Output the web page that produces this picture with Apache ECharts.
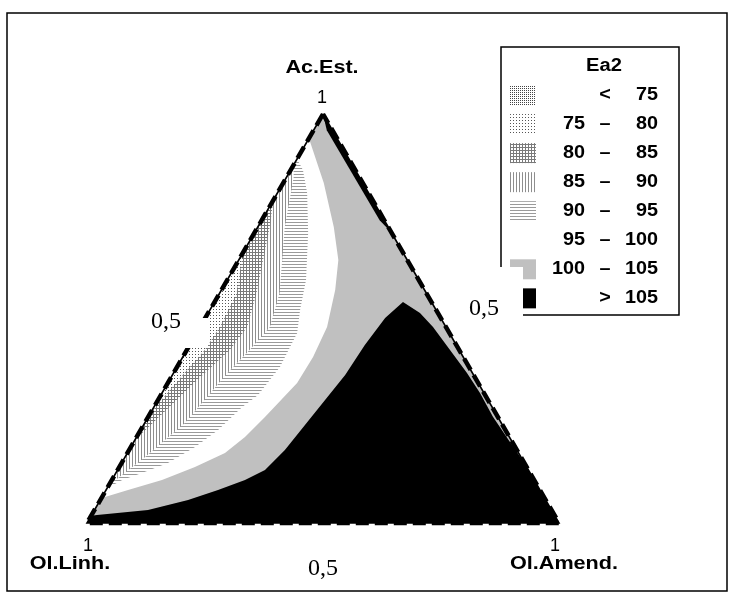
<!DOCTYPE html>
<html><head><meta charset="utf-8">
<script src="https://cdn.jsdelivr.net/npm/echarts@6/dist/echarts.min.js"></script>
<style>html,body{margin:0;padding:0;background:#fff}#c{width:733px;height:597px}</style>
</head><body><div id="c"></div>
<script>
// Ternary points are [Ac.Est., Ol.Amend.] fractions; Ol.Linh. = 1 - a - c
const axisTitles = ['Ac.Est.', 'Ol.Linh.', 'Ol.Amend.'];
const tickLabels = ['0,5', '1'];
const legendTitle = 'Ea2';
const thresholds = [75, 80, 85, 90, 95, 100, 105];

const triangle = [[1, 0], [0, 0], [0, 1]];
// > 105
const blackBoundary = [[0.018,0],[0.0196,0.0114],[0.0318,0.1133],[0.0562,0.186],[0.0807,0.2372],[0.1051,0.2822],[0.1296,0.3123],[0.1785,0.330],[0.2396,0.342],[0.3007,0.354],[0.3619,0.366],[0.4352,0.371],[0.5012,0.381],[0.5403,0.3993],[0.5134,0.4488],[0.4792,0.4935],[0.423,0.5576],[0.3667,0.6217],[0.3178,0.6737],[0.26,0.73],[0.2,0.795],[0.15,0.85],[0,1],[0,0]];
const blackRim = [[1,0],[0.96,0.028],[0.74,0.25],[0.71,0.29]];
// <= 100
const whiteBoundary = [[0.9315,0],[0.9315,0.007],[0.8313,0.086],[0.7237,0.161],[0.643,0.211],[0.5697,0.241],[0.4792,0.269],[0.4059,0.276],[0.3423,0.274],[0.2592,0.2475],[0.2103,0.2296],[0.1711,0.2068],[0.1369,0.1603],[0.1051,0.1063],[0.0807,0.0466],[0.0636,0.0063],[0.06,0]];
// <= 95
const band95 = [[0.89,0],[0.863,0.026],[0.8068,0.063],[0.709,0.114],[0.5941,0.167],[0.5208,0.191],[0.4645,0.213],[0.3814,0.218],[0.313,0.206],[0.2836,0.187],[0.2274,0.164],[0.1858,0.136],[0.1467,0.098],[0.1222,0.055],[0.1051,0.022],[0.085,0]];
// <= 90
const band90 = [[0.875,0],[0.846,0.015],[0.724,0.057],[0.562,0.127],[0.479,0.148],[0.423,0.133],[0.367,0.114],[0.2445,0.085],[0.161,0.042],[0.105,0.008],[0.095,0]];
// <= 85
const band85 = [[0.79,0],[0.724,0.025],[0.562,0.078],[0.479,0.10],[0.423,0.091],[0.367,0.066],[0.2445,0.017],[0.203,0]];
// <= 80
const band80 = [[0.66,0],[0.562,0.036],[0.479,0.042],[0.423,0.038],[0.367,0.023],[0.269,0]];

const SQ = Math.sqrt(3) / 2;
function toXY(p) { return [p[1] + p[0] / 2, p[0] * SQ]; }

function makePattern(size, draw) {
  const cv = document.createElement('canvas');
  cv.width = size; cv.height = size;
  const ctx = cv.getContext('2d');
  ctx.fillStyle = '#fff'; ctx.fillRect(0, 0, size, size);
  draw(ctx);
  return { image: cv, repeat: 'repeat' };
}
const pat75 = makePattern(2, c => { c.fillStyle = '#444'; c.fillRect(0, 0, 1, 1); });
const pat80 = makePattern(3, c => { c.fillStyle = '#555'; c.fillRect(0, 0, 1, 1); });
const pat85 = makePattern(3, c => { c.fillStyle = '#7a7a7a'; c.fillRect(0, 0, 3, 1); c.fillRect(0, 0, 1, 3); });
const pat90 = makePattern(3, c => { c.fillStyle = '#8e8e8e'; c.fillRect(0, 0, 1, 3); });
const pat95 = makePattern(3, c => { c.fillStyle = '#9a9a9a'; c.fillRect(0, 0, 3, 1); });
const GRAY = '#c0c0c0';
const legendFills = [pat75, pat80, pat85, pat90, pat95, '#fff', GRAY, '#000'];

function polySeries(polys, fill, z) {
  return {
    type: 'custom', coordinateSystem: 'cartesian2d', z: z, silent: true, data: [[0, 0]],
    renderItem: (params, api) => ({
      type: 'group',
      children: polys.map(poly => ({
        type: 'polygon',
        shape: { points: poly.map(p => api.coord(toXY(p))), smooth: 0 },
        style: { fill: fill, stroke: null }
      }))
    })
  };
}

const series = [
  polySeries([triangle], GRAY, 2),
  polySeries([blackBoundary, blackRim], '#000', 3),
  polySeries([whiteBoundary], '#fff', 4),
  polySeries([band95], pat95, 5),
  polySeries([band90], pat90, 6),
  polySeries([band85], pat85, 7),
  polySeries([band80], pat80, 8),
  {
    type: 'custom', coordinateSystem: 'cartesian2d', z: 9, silent: true, data: [[0, 0]],
    renderItem: (params, api) => {
      const pts = triangle.concat([triangle[0]]).map(p => api.coord(toXY(p)));
      return {
        type: 'group', children: [
          { type: 'polyline', shape: { points: pts }, style: { stroke: '#000', lineWidth: 1.6, fill: null } },
          { type: 'polyline', shape: { points: pts }, style: { stroke: '#000', lineWidth: 4.5, lineDash: [13, 6], fill: null } }
        ]
      };
    }
  }
];

const boldFont = 'bold 18px "Liberation Sans", Arial, sans-serif';
function txt(text, x, y, font, align, sx, z) {
  return { type: 'text', x: x, y: y, scaleX: sx || 1, z: z || 110,
    style: { text: text, font: font, fill: '#000', align: align || 'center', verticalAlign: 'middle' } };
}

const graphics = [];
graphics.push({ type: 'rect', z: 100, shape: { x: 7, y: 13, width: 720, height: 578 }, style: { fill: null, stroke: '#000', lineWidth: 1.5 } });
graphics.push(txt(axisTitles[0], 322, 68, boldFont, 'center', 1.2));
graphics.push(txt(axisTitles[1], 70, 564, boldFont, 'center', 1.2));
graphics.push(txt(axisTitles[2], 564, 564, boldFont, 'center', 1.2));
const tickFont = '18px "Liberation Sans", Arial, sans-serif';
graphics.push(txt(tickLabels[1], 322, 98, tickFont));
graphics.push(txt(tickLabels[1], 88, 546, tickFont));
graphics.push(txt(tickLabels[1], 555, 546, tickFont));
// legend
graphics.push({ type: 'rect', z: 100, shape: { x: 501, y: 47, width: 178, height: 268 }, style: { fill: '#fff', stroke: '#000', lineWidth: 1.5 } });
graphics.push(txt(legendTitle, 604, 66, boldFont, 'center', 1.12));
for (let i = 0; i < 8; i++) {
  const y = 95 + i * 29.05;
  graphics.push({ type: 'rect', z: 101, shape: { x: 510, y: y - 10, width: 26, height: 20 }, style: { fill: legendFills[i], stroke: null } });
  let left = '', mid = '–', right = '';
  if (i === 0) { mid = '<'; right = String(thresholds[0]); }
  else if (i === 7) { mid = '>'; right = String(thresholds[6]); }
  else { left = String(thresholds[i - 1]); right = String(thresholds[i]); }
  if (left) graphics.push(txt(left, 585, y, boldFont, 'right', 1.1));
  graphics.push(txt(mid, 605, y, boldFont, 'center', 1.1));
  graphics.push(txt(right, 658, y, boldFont, 'right', 1.1));
}
// label backgrounds of the 0,5 ticks
graphics.push({ type: 'rect', z: 105, shape: { x: 455, y: 267, width: 68, height: 62 }, style: { fill: '#fff', stroke: null } });
graphics.push({ type: 'rect', z: 105, shape: { x: 140, y: 318, width: 68, height: 30 }, style: { fill: '#fff', stroke: null } });
const serifFont = '24px "Liberation Serif", "Times New Roman", serif';
graphics.push(txt(tickLabels[0], 166, 322, serifFont));
graphics.push(txt(tickLabels[0], 484, 309, serifFont));
graphics.push(txt(tickLabels[0], 323, 569, serifFont));

const chart = echarts.init(document.getElementById('c'), null, { renderer: 'canvas' });
chart.setOption({
  animation: false,
  backgroundColor: '#fff',
  grid: { left: 87, top: 114, width: 472, height: 409 },
  xAxis: { type: 'value', min: 0, max: 1, show: false },
  yAxis: { type: 'value', min: 0, max: SQ, show: false },
  series: series,
  graphic: { elements: graphics }
});
</script></body></html>
